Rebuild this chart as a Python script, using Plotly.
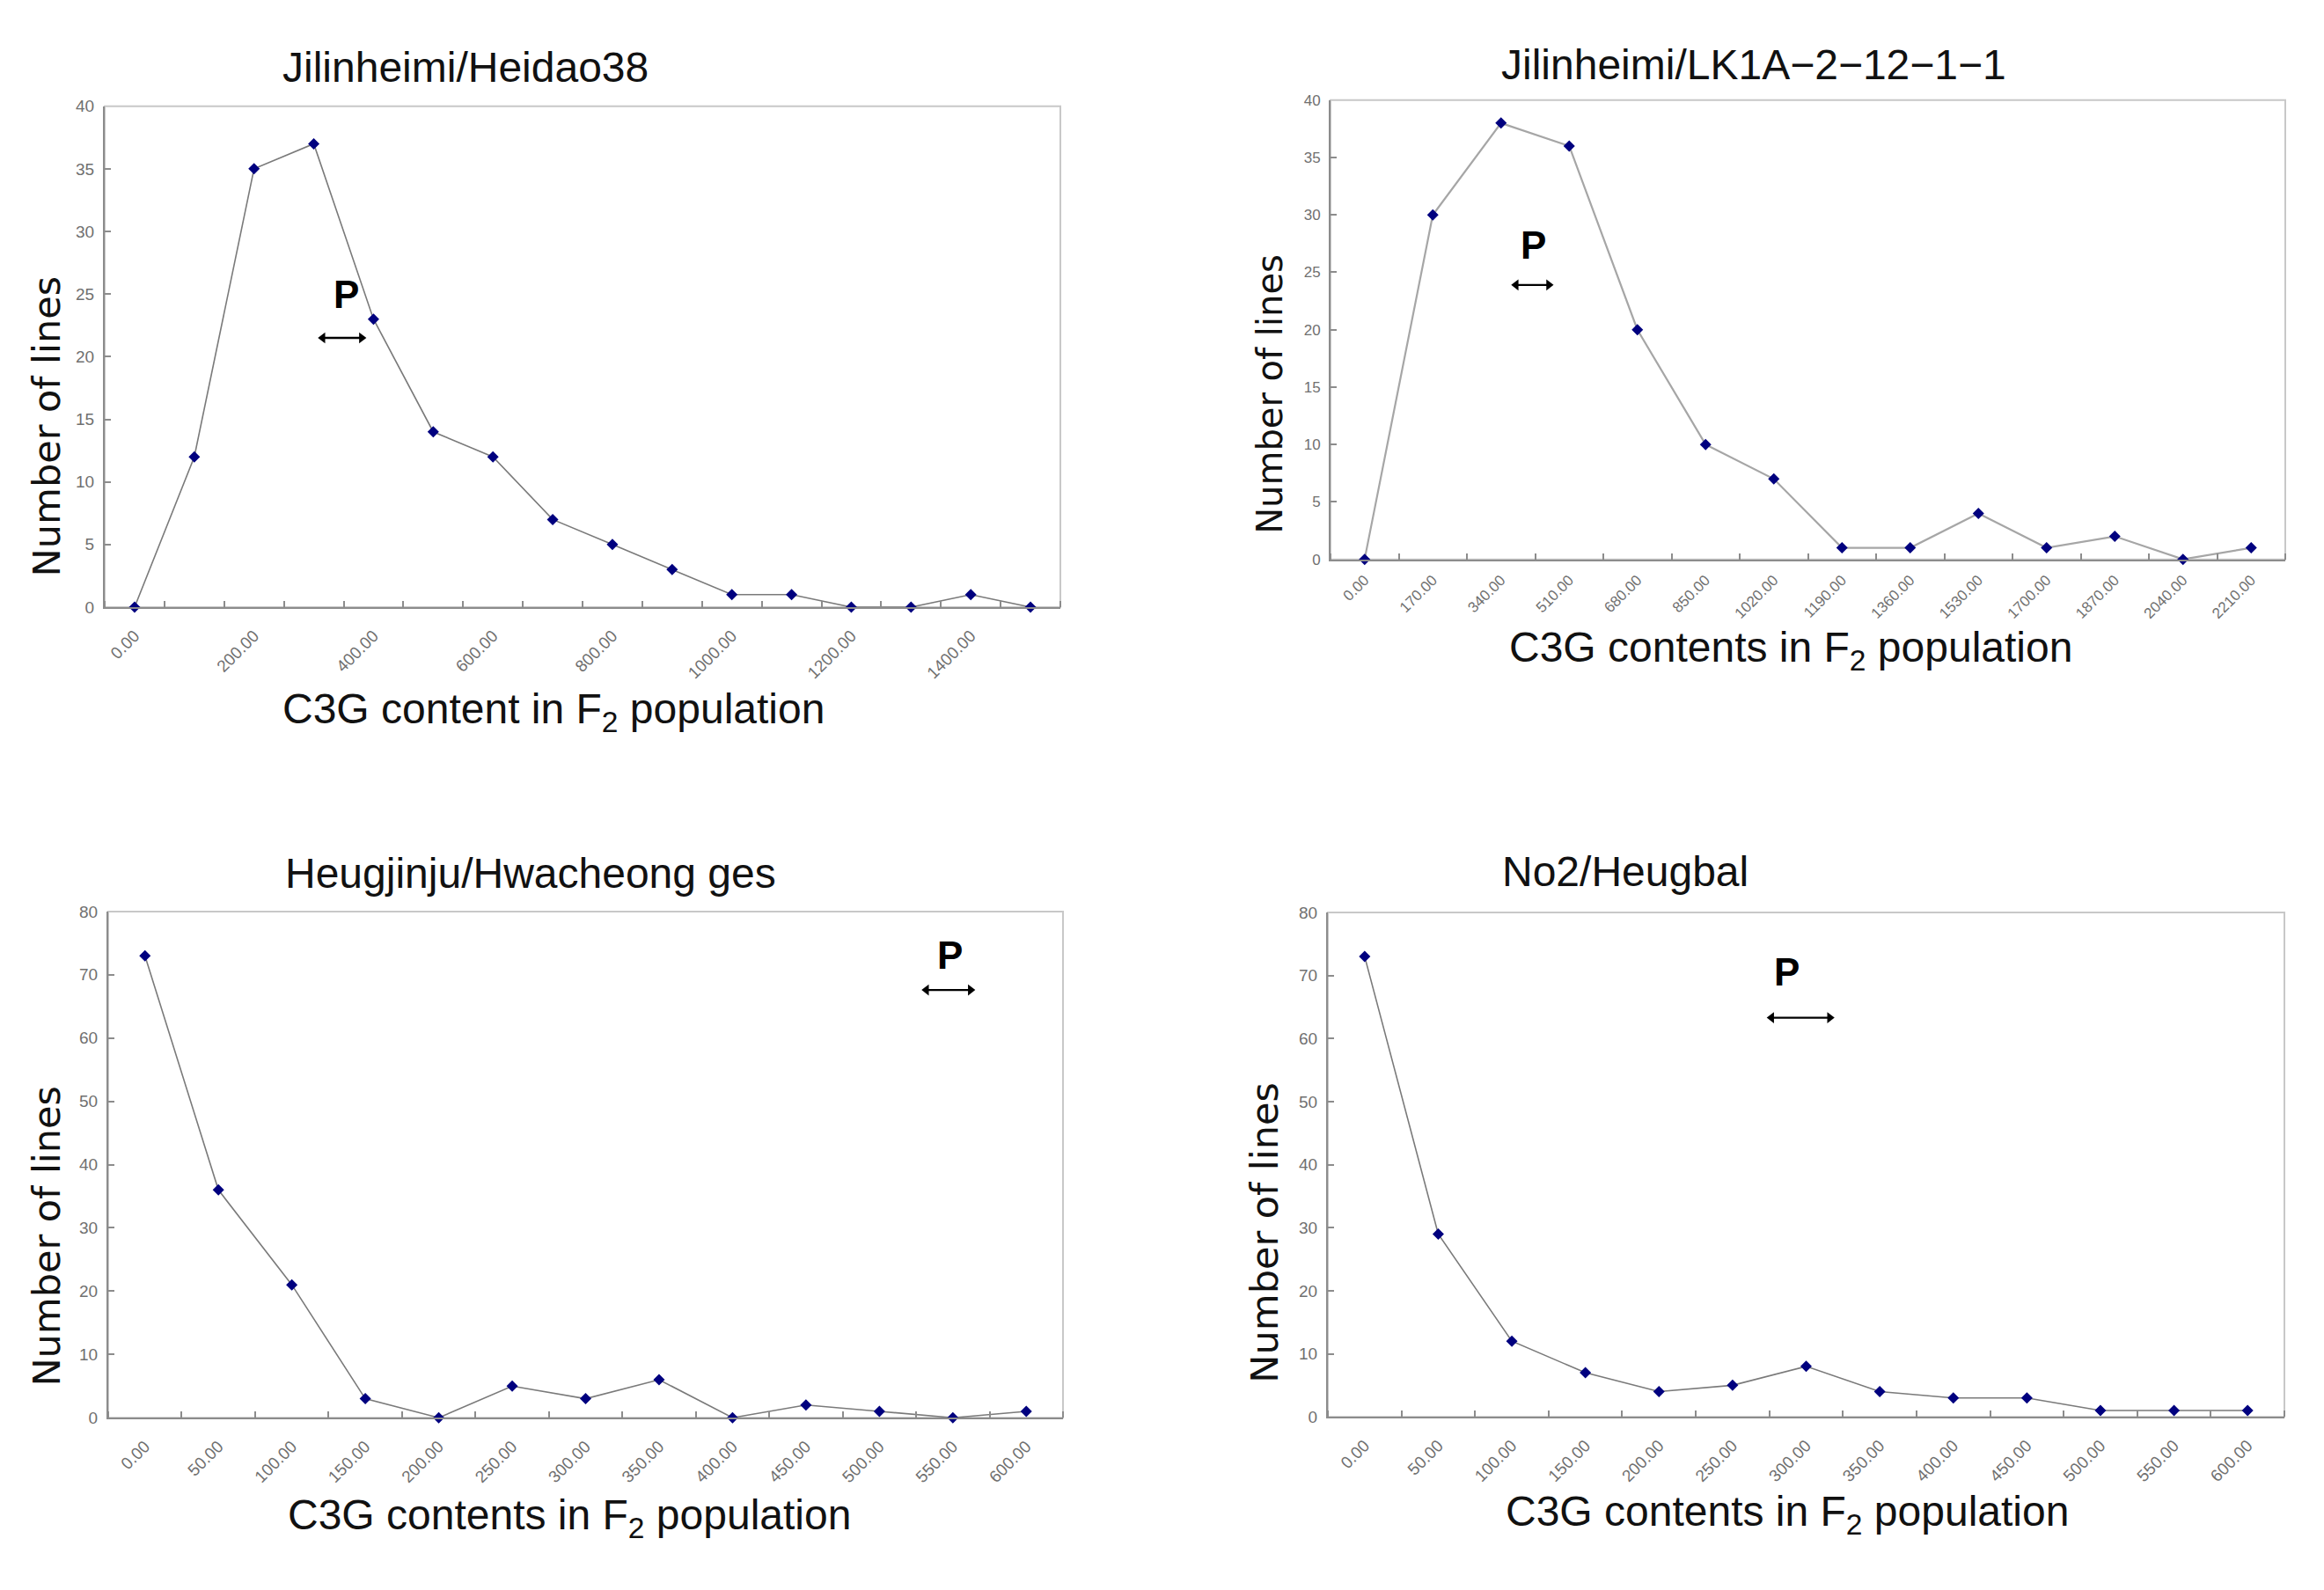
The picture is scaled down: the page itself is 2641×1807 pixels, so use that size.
import plotly.graph_objects as go

W, H = 2641, 1807

# ---------------- data ----------------
p1_title = "Jilinheimi/Heidao38"
p1_categories = [0, 100, 200, 300, 400, 500, 600, 700, 800, 900, 1000, 1100, 1200, 1300, 1400, 1500]
p1_counts = [0, 12, 35, 37, 23, 14, 12, 7, 5, 3, 1, 1, 0, 0, 1, 0]
p1_tick_labels = ["0.00", "200.00", "400.00", "600.00", "800.00", "1000.00", "1200.00", "1400.00"]
p1_xtitle = "C3G content in F<sub>2</sub> population"
p1_yticks = [0, 5, 10, 15, 20, 25, 30, 35, 40]

p2_title = "Jilinheimi/LK1A\u22122\u221212\u22121\u22121"
p2_categories = [0, 170, 340, 510, 680, 850, 1020, 1190, 1360, 1530, 1700, 1870, 2040, 2210]
p2_counts = [0, 30, 38, 36, 20, 10, 7, 1, 1, 4, 1, 2, 0, 1]
p2_tick_labels = ["0.00", "170.00", "340.00", "510.00", "680.00", "850.00", "1020.00",
                  "1190.00", "1360.00", "1530.00", "1700.00", "1870.00", "2040.00", "2210.00"]
p2_xtitle = "C3G contents in F<sub>2</sub> population"
p2_yticks = [0, 5, 10, 15, 20, 25, 30, 35, 40]

p3_title = "Heugjinju/Hwacheong ges"
p3_categories = [0, 50, 100, 150, 200, 250, 300, 350, 400, 450, 500, 550, 600]
p3_counts = [73, 36, 21, 3, 0, 5, 3, 6, 0, 2, 1, 0, 1]
p3_tick_labels = ["0.00", "50.00", "100.00", "150.00", "200.00", "250.00", "300.00",
                  "350.00", "400.00", "450.00", "500.00", "550.00", "600.00"]
p3_xtitle = "C3G contents in F<sub>2</sub> population"
p3_yticks = [0, 10, 20, 30, 40, 50, 60, 70, 80]

p4_title = "No2/Heugbal"
p4_categories = [0, 50, 100, 150, 200, 250, 300, 350, 400, 450, 500, 550, 600]
p4_counts = [73, 29, 12, 7, 4, 5, 8, 4, 3, 3, 1, 1, 1]
p4_tick_labels = ["0.00", "50.00", "100.00", "150.00", "200.00", "250.00", "300.00",
                  "350.00", "400.00", "450.00", "500.00", "550.00", "600.00"]
p4_xtitle = "C3G contents in F<sub>2</sub> population"
p4_yticks = [0, 10, 20, 30, 40, 50, 60, 70, 80]

y_title = "Number of lines"

# ---------------- layout (page-pixel boxes) ----------------
panels = [
    dict(title=p1_title, cats=p1_categories, counts=p1_counts, labels=p1_tick_labels,
         xtitle=p1_xtitle, yticks=p1_yticks,
         box=(119, 112, 1205, 688), title_pos=(529, 67), xtitle_pos=(629, 808),
         ytitle_pos=(53, 480), ytitle_size=43, line_color="#7a7a7a", line_w=1.6,
         tick_size=19, tick_standoff=12,
         p_pos=(3.55, 25.0), arrow=(3.15, 3.8, 21.5)),
    dict(title=p2_title, cats=p2_categories, counts=p2_counts, labels=p2_tick_labels,
         xtitle=p2_xtitle, yticks=p2_yticks,
         box=(1512, 105, 2597, 633), title_pos=(1993, 64), xtitle_pos=(2035, 738),
         ytitle_pos=(1443, 443), ytitle_size=40, line_color="#a6a6a6", line_w=2.2,
         tick_size=17, tick_standoff=5,
         p_pos=(2.48, 27.4), arrow=(2.22, 2.7, 23.9)),
    dict(title=p3_title, cats=p3_categories, counts=p3_counts, labels=p3_tick_labels,
         xtitle=p3_xtitle, yticks=p3_yticks,
         box=(123, 1038, 1208, 1620), title_pos=(603, 994), xtitle_pos=(647, 1735),
         ytitle_pos=(53, 1411), ytitle_size=43, line_color="#7a7a7a", line_w=1.6,
         tick_size=19, tick_standoff=12,
         p_pos=(10.96, 73.1), arrow=(10.64, 11.24, 67.6)),
    dict(title=p4_title, cats=p4_categories, counts=p4_counts, labels=p4_tick_labels,
         xtitle=p4_xtitle, yticks=p4_yticks,
         box=(1509, 1039, 2596, 1619), title_pos=(1847, 992), xtitle_pos=(2031, 1731),
         ytitle_pos=(1437, 1407), ytitle_size=43, line_color="#7a7a7a", line_w=1.6,
         tick_size=19, tick_standoff=12,
         p_pos=(5.74, 70.5), arrow=(5.53, 6.32, 63.3)),
]


def px_x(x):
    return x / W


def px_y(y):
    return 1 - y / H


FONT = "Liberation Sans, Arial, sans-serif"
YFONT = "DejaVu Sans, Verdana, sans-serif"
TICK_COLOR = "#707070"
AXIS_COLOR = "#8c8c8c"
BORDER_COLOR = "#c8c8c8"
MARKER_COLOR = "#00007f"

fig = go.Figure()
annotations = []
shapes = []

for i, p in enumerate(panels, start=1):
    xa = "x" if i == 1 else f"x{i}"
    ya = "y" if i == 1 else f"y{i}"
    n = len(p["cats"])
    idx = list(range(n))
    fig.add_trace(go.Scatter(
        x=idx, y=p["counts"], xaxis=xa, yaxis=ya, mode="lines+markers",
        line=dict(color=p["line_color"], width=p["line_w"]),
        marker=dict(symbol="diamond", size=10, color=MARKER_COLOR),
        customdata=p["cats"], hovertemplate="%{customdata}: %{y}<extra></extra>",
        showlegend=False, cliponaxis=False,
    ))
    # double-headed arrow under the "P"
    a0, a1, ay = p["arrow"]
    fig.add_trace(go.Scatter(
        x=[a0, a1], y=[ay, ay], xaxis=xa, yaxis=ya, mode="lines+markers",
        line=dict(color="black", width=2.4),
        marker=dict(symbol=["triangle-left", "triangle-right"], size=11, color="black"),
        hoverinfo="skip", showlegend=False, cliponaxis=False,
    ))
    x0, y0, x1, y1 = p["box"]
    tickvals = [p["cats"].index(float(lbl)) for lbl in p["labels"]]
    tfont = dict(family=FONT, size=p["tick_size"], color=TICK_COLOR)
    xkey = "xaxis" if i == 1 else f"xaxis{i}"
    ykey = "yaxis" if i == 1 else f"yaxis{i}"
    fig.update_layout(**{
        xkey: dict(
            domain=[px_x(x0), px_x(x1)], anchor=ya, range=[-0.5, n - 0.5],
            showgrid=False, zeroline=False, showline=True, linecolor=AXIS_COLOR, linewidth=2,
            tickmode="array", tickvals=tickvals, ticktext=p["labels"], ticks="",
            tickangle=-45, tickfont=tfont, ticklabelstandoff=p["tick_standoff"],
            minor=dict(tickmode="linear", tick0=0.5, dtick=1, ticks="inside",
                       ticklen=7, tickcolor=AXIS_COLOR, tickwidth=1.5, showgrid=False),
            fixedrange=True,
        ),
        ykey: dict(
            domain=[px_y(y1), px_y(y0)], anchor=xa,
            range=[p["yticks"][0], p["yticks"][-1]],
            showgrid=False, zeroline=False, showline=True, linecolor=AXIS_COLOR, linewidth=2,
            tickmode="array", tickvals=p["yticks"], ticks="inside", ticklen=7,
            tickcolor=AXIS_COLOR, tickwidth=1.5, tickfont=tfont, ticklabelstandoff=6,
            fixedrange=True,
        ),
    })
    # light border of plot area
    shapes.append(dict(type="rect", xref=f"{xa} domain", yref=f"{ya} domain",
                       x0=0, x1=1, y0=0, y1=1, line=dict(color=BORDER_COLOR, width=2),
                       layer="below"))
    # titles
    tx, ty = p["title_pos"]
    annotations.append(dict(text=p["title"], x=px_x(tx), y=px_y(ty), xref="paper", yref="paper",
                            showarrow=False, xanchor="center", yanchor="middle",
                            font=dict(family=FONT, size=48, color="#111111")))
    ax_, ay_ = p["xtitle_pos"]
    annotations.append(dict(text=p["xtitle"], x=px_x(ax_), y=px_y(ay_), xref="paper", yref="paper",
                            showarrow=False, xanchor="center", yanchor="middle",
                            font=dict(family=FONT, size=48, color="#111111")))
    yx, yy = p["ytitle_pos"]
    annotations.append(dict(text=y_title, x=px_x(yx), y=px_y(yy), xref="paper", yref="paper",
                            showarrow=False, xanchor="center", yanchor="middle", textangle=-90,
                            font=dict(family=YFONT, size=p["ytitle_size"], color="#111111")))
    # bold P
    pxv, pyv = p["p_pos"]
    annotations.append(dict(text="<b>P</b>", x=pxv, y=pyv, xref=xa, yref=ya, showarrow=False,
                            font=dict(family=FONT, size=44, color="black")))

fig.update_layout(
    width=W, height=H, margin=dict(l=0, r=0, t=0, b=0),
    paper_bgcolor="white", plot_bgcolor="white",
    annotations=annotations, shapes=shapes, showlegend=False,
)

fig.write_html("out.html")
